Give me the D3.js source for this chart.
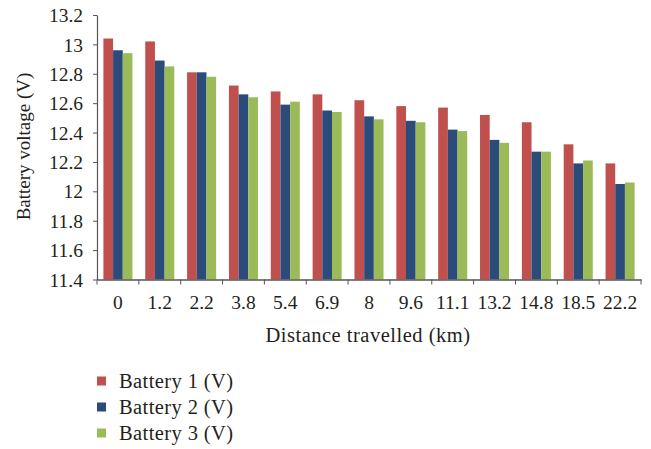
<!DOCTYPE html>
<html lang="en">
<head>
    <meta charset="utf-8" />
    <title>Battery voltage</title>
    <script type="text/javascript" src="https://d3js.org/d3.v7.min.js"></script>
    <style>
        body { margin: 0; background: #fff; }
        text { font-family: "Liberation Serif", "DejaVu Serif", serif; fill: #231f20; }
    </style>
</head>
<body>
    <script type="text/javascript">

        var distances = ["0", "1.2", "2.2", "3.8", "5.4", "6.9", "8", "9.6", "11.1", "13.2", "14.8", "18.5", "22.2"];
        var battery1 = [13.04, 13.02, 12.81, 12.72, 12.68, 12.66, 12.62, 12.58, 12.57, 12.52, 12.47, 12.32, 12.19];
        var battery2 = [12.96, 12.89, 12.81, 12.66, 12.59, 12.55, 12.51, 12.48, 12.42, 12.35, 12.27, 12.19, 12.05];
        var battery3 = [12.94, 12.85, 12.78, 12.64, 12.61, 12.54, 12.49, 12.47, 12.41, 12.33, 12.27, 12.21, 12.06];
        var seriesNames = ["Battery 1 (V)", "Battery 2 (V)", "Battery 3 (V)"];
        var colors = ["#c0504d", "#2b4b7a", "#9bbb59"];
        var yTicks = [11.4, 11.6, 11.8, 12, 12.2, 12.4, 12.6, 12.8, 13, 13.2];

        var w = 651;
        var h = 449;
        var mLeft = 97, mRight = 641, mTop = 15, mBottom = 279.5;

        var svg = d3.select("body")
            .append("svg")
            .attr("width", w)
            .attr("height", h);

        var series = [battery1, battery2, battery3];

        var xScale = d3.scaleBand()
            .domain(distances)
            .range([mLeft, mRight])
            .paddingInner(0)
            .paddingOuter(0);

        var innerPad = 6.4;
        var xSub = d3.scaleBand()
            .domain(d3.range(series.length))
            .range([innerPad, xScale.bandwidth() - innerPad]);

        var yScale = d3.scaleLinear()
            .domain([11.4, 13.2])
            .range([mBottom, mTop]);

        // bars
        var groups = svg.selectAll("g.group")
            .data(distances)
            .enter()
            .append("g")
            .attr("class", "group")
            .attr("transform", function (d) { return "translate(" + xScale(d) + ",0)"; });

        groups.selectAll("rect")
            .data(function (d, i) {
                return series.map(function (s, j) { return { s: j, v: s[i] }; });
            })
            .enter()
            .append("rect")
            .attr("x", function (d) { return xSub(d.s); })
            .attr("width", xSub.bandwidth())
            .attr("y", function (d) { return yScale(d.v); })
            .attr("height", function (d) { return mBottom - yScale(d.v); })
            .attr("fill", function (d) { return colors[d.s]; });

        // y axis
        var yAxis = svg.append("g")
            .attr("transform", "translate(" + mLeft + ",0)")
            .call(d3.axisLeft(yScale)
                .tickValues(yTicks)
                .tickSize(4)
                .tickSizeOuter(0)
                .tickPadding(10)
                .tickFormat(function (d) { return String(+d.toFixed(1)); }));
        yAxis.selectAll("text")
            .attr("font-size", "19.5px")
            .attr("font-family", null)
            .attr("dy", "0.34em");
        yAxis.selectAll("line, path").attr("stroke", "#555");
        yAxis.select("path").attr("stroke-width", 1.2);

        // x axis
        var xAxis = svg.append("g")
            .attr("transform", "translate(0," + mBottom + ")")
            .call(d3.axisBottom(xScale).tickSize(0).tickPadding(16));
        xAxis.select("path").attr("stroke", "#555").attr("stroke-width", 1.6);
        xAxis.selectAll("text")
            .attr("font-size", "19.5px")
            .attr("font-family", null);

        // tick marks on band edges
        var edges = distances.map(function (d) { return xScale(d); }).concat([mRight]);
        xAxis.selectAll("line.edge")
            .data(edges)
            .enter()
            .append("line")
            .attr("class", "edge")
            .attr("x1", function (d) { return d; })
            .attr("x2", function (d) { return d; })
            .attr("y1", 0)
            .attr("y2", 5)
            .attr("stroke", "#555");

        // axis titles
        svg.append("text")
            .attr("x", (mLeft + mRight) / 2 - 1)
            .attr("y", 342)
            .attr("text-anchor", "middle")
            .attr("font-size", "20.5px")
            .attr("letter-spacing", "0.5px")
            .text("Distance travelled (km)");

        svg.append("text")
            .attr("transform", "translate(30,146.5) rotate(-90)")
            .attr("text-anchor", "middle")
            .attr("font-size", "19px")
            .text("Battery voltage (V)");

        // legend
        var legend = svg.selectAll("g.legend")
            .data(seriesNames)
            .enter()
            .append("g")
            .attr("class", "legend")
            .attr("transform", function (d, i) { return "translate(97," + (381 + i * 26) + ")"; });

        legend.append("rect")
            .attr("x", 0)
            .attr("y", -4.5)
            .attr("width", 9)
            .attr("height", 9)
            .attr("fill", function (d, i) { return colors[i]; });

        legend.append("text")
            .attr("x", 22)
            .attr("y", 6.5)
            .attr("font-size", "20.5px")
            .attr("letter-spacing", "0.4px")
            .text(function (d) { return d; });

    </script>
</body>
</html>
